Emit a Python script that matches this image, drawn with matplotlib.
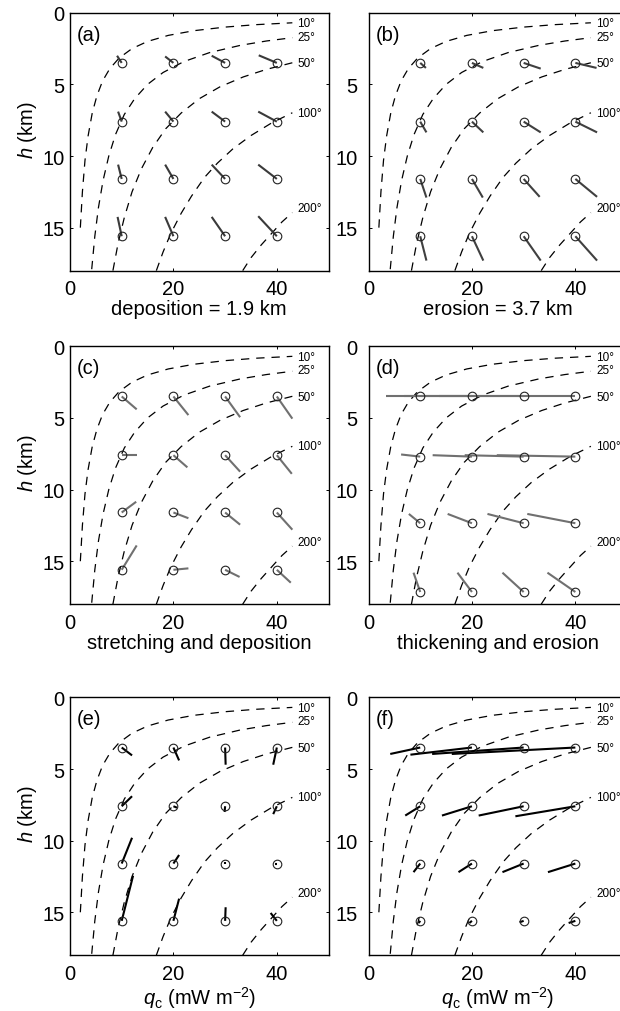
import numpy as np
import matplotlib
matplotlib.use('Agg')
import matplotlib.pyplot as plt

plt.rcParams['font.family'] = ['Liberation Sans', 'DejaVu Sans']
plt.rcParams['mathtext.fontset'] = 'custom'
plt.rcParams['mathtext.rm'] = 'Liberation Sans'
plt.rcParams['mathtext.it'] = 'Liberation Sans:italic'
plt.rcParams['lines.scale_dashes'] = False

# starting grid (q_c in mW m-2, h in km)
q_grid = [10, 20, 30, 40]
h_grid = [3.5, 7.6, 11.6, 15.6]

# isotherms
iso_10_q = [2.0, 2.4, 2.9, 3.5, 4.3, 5.2, 6.3, 7.7, 9.5, 12, 15, 19, 24, 30, 36, 43]
iso_10_h = [15.0, 12.5, 10.3, 8.6, 7.0, 5.8, 4.76, 3.9, 3.16, 2.5, 2.0, 1.58, 1.25, 1.0, 0.83, 0.70]
iso_25_q = [4.2, 4.8, 5.5, 6.4, 7.5, 8.8, 10.5, 12.5, 15, 18, 22, 27, 33, 38, 43]
iso_25_h = [17.9, 15.6, 13.6, 11.7, 10.0, 8.5, 7.1, 6.0, 5.0, 4.17, 3.41, 2.78, 2.27, 1.97, 1.74]
iso_50_q = [8.3, 9.3, 10.5, 12, 13.8, 16, 18.5, 21.5, 25, 29, 33.5, 38, 43]
iso_50_h = [18.0, 16.1, 14.3, 12.5, 10.9, 9.4, 8.1, 7.0, 6.0, 5.17, 4.48, 3.95, 3.49]
iso_100_q = [16.7, 18, 19.5, 21.5, 23.5, 26, 28.5, 31.5, 35, 39, 43]
iso_100_h = [18.0, 16.7, 15.4, 14.0, 12.8, 11.5, 10.5, 9.5, 8.57, 7.69, 6.98]
iso_200_q = [33.4, 35, 37, 39, 41, 43]
iso_200_h = [18.0, 17.1, 16.2, 15.4, 14.6, 13.95]

iso_labels = ['10°', '25°', '50°', '100°', '200°']
iso_label_h = [0.74, 1.67, 3.53, 6.97, 13.66]

# end points of the paths, one row per depth level
end_q_a = [[9.1, 18.4, 27.4, 36.5], [9.3, 18.4, 27.4, 36.4], [9.3, 18.4, 27.4, 36.4], [9.2, 18.4, 27.4, 36.4]]
end_h_a = [[3.0, 3.05, 3.0, 2.97], [6.9, 6.9, 6.9, 6.9], [10.6, 10.6, 10.6, 10.6], [14.25, 14.25, 14.25, 14.2]]

end_q_b = [[11.1, 22.2, 33.3, 44.1], [11.2, 22.2, 33.3, 44.2], [11.2, 22.1, 33.1, 44.2], [11.2, 22.2, 33.3, 44.2]]
end_h_b = [[3.85, 3.85, 3.9, 3.85], [8.35, 8.35, 8.35, 8.35], [12.9, 12.9, 12.85, 12.85], [17.3, 17.3, 17.3, 17.3]]

end_q_c = [[12.9, 22.9, 32.9, 43.0], [12.9, 22.7, 32.9, 42.9], [12.8, 22.9, 32.9, 43.0], [12.9, 22.9, 32.8, 42.7]]
end_h_c = [[4.4, 4.8, 4.95, 5.05], [7.6, 8.45, 8.75, 8.9], [10.85, 12.0, 12.45, 12.8], [13.9, 15.5, 16.1, 16.5]]

circle_h_d = [3.5, 7.7, 12.35, 17.15]
end_q_d = [[3.4, 6.8, 10.2, 13.6], [6.3, 12.4, 18.6, 24.8], [7.8, 15.3, 23.0, 30.7], [8.7, 17.2, 25.9, 34.6]]
end_h_d = [[3.5, 3.5, 3.5, 3.5], [7.55, 7.6, 7.6, 7.6], [11.7, 11.7, 11.7, 11.7], [15.8, 15.8, 15.8, 15.8]]

end_q_e = [[12.0, 21.1, 30.1, 39.3], [12.0, 20.7, 29.9, 39.3], [12.0, 21.1, 30.0, 39.6], [12.2, 21.1, 30.1, 38.8]]
end_h_e = [[4.05, 4.4, 4.7, 4.7], [6.9, 7.7, 8.0, 8.15], [9.8, 11.0, 11.5, 11.6], [12.45, 14.05, 14.65, 15.05]]

end_q_f = [[4.2, 8.1, 12.3, 16.1], [7.1, 14.2, 21.3, 28.4], [8.7, 17.4, 25.9, 34.7], [9.7, 19.5, 29.2, 38.7]]
end_h_f = [[3.95, 4.0, 3.95, 3.95], [8.25, 8.25, 8.25, 8.3], [12.2, 12.2, 12.2, 12.2], [15.75, 15.75, 15.7, 15.75]]

xlabels = ['deposition = 1.9 km', 'erosion = 3.7 km',
           'stretching and deposition', 'thickening and erosion',
           r'$q_{\rm c}$ (mW m$^{-2}$)', r'$q_{\rm c}$ (mW m$^{-2}$)']
letters = ['(a)', '(b)', '(c)', '(d)', '(e)', '(f)']

FS = 14.5
isotherms = [(iso_10_q, iso_10_h), (iso_25_q, iso_25_h), (iso_50_q, iso_50_h),
             (iso_100_q, iso_100_h), (iso_200_q, iso_200_h)]


def draw_panel(ax, letter, end_q, end_h, circ_h, color, xlabel, left, show_y0=True):
    for qs, hs in isotherms:
        ax.plot(qs, hs, color='k', lw=0.9, ls=(0, (6, 5)))
    for lab, hl in zip(iso_labels, iso_label_h):
        ax.text(44.0, hl, lab, fontsize=8.5, ha='left', va='center')

    # paths from the circles
    for i, hc in enumerate(circ_h):
        for j, qc in enumerate(q_grid):
            ax.plot([qc, end_q[i][j]], [hc, end_h[i][j]], color=color, lw=1.5,
                    solid_capstyle='butt', zorder=3)
    qq, hh = np.meshgrid(q_grid, circ_h)
    ax.plot(qq.ravel(), hh.ravel(), 'o', mfc='none', mec='#222222', ms=6.2, mew=0.8, zorder=4)

    ax.text(1.4, 1.5, letter, fontsize=FS, ha='left', va='center')

    ax.set_xlim(0, 50)
    ax.set_ylim(18, 0)
    ax.set_xticks([0, 20, 40])
    ax.set_yticks([0, 5, 10, 15])
    if not show_y0:
        ax.set_yticklabels(['', '5', '10', '15'])
    ax.tick_params(direction='in', length=2.5, width=0.7, top=True, right=True,
                   labelsize=FS)
    ax.tick_params(axis='x', pad=6)
    ax.tick_params(axis='y', pad=4 if left else 8)
    for s in ax.spines.values():
        s.set_linewidth(1.0)
    ax.set_xlabel(xlabel, fontsize=FS, labelpad=1)
    if left:
        ax.set_ylabel(r'$h$ (km)', fontsize=FS, labelpad=2)
        ax.yaxis.set_label_coords(-0.12, 0.55)


fig = plt.figure(figsize=(6.2, 10.12), dpi=100)
lefts = [0.1129, 0.5944]
bottoms = [0.7316, 0.402, 0.0551]
W, H = 0.417, 0.2548

panels = [
    (end_q_a, end_h_a, h_grid, '#3a3a3a'),
    (end_q_b, end_h_b, h_grid, '#404040'),
    (end_q_c, end_h_c, h_grid, '#707070'),
    (end_q_d, end_h_d, circle_h_d, '#707070'),
    (end_q_e, end_h_e, h_grid, '#000000'),
    (end_q_f, end_h_f, h_grid, '#000000'),
]

for k, (eq, eh, ch, col) in enumerate(panels):
    r, c = divmod(k, 2)
    ax = fig.add_axes([lefts[c], bottoms[r], W, H])
    draw_panel(ax, letters[k], eq, eh, ch, col, xlabels[k], left=(c == 0),
               show_y0=(k != 1))

fig.savefig('out.png', dpi=100)
